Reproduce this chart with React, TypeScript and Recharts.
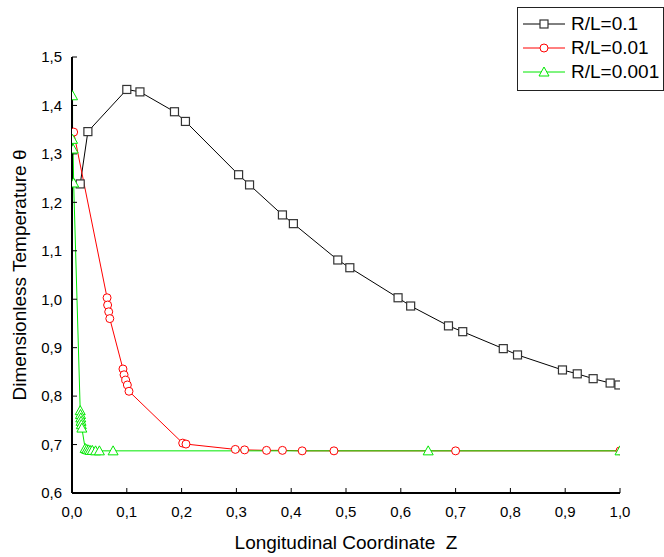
import React from 'react';
import { LineChart, Line, XAxis, YAxis, Legend } from 'recharts';

const seriesNames = ['R/L=0.1', 'R/L=0.01', 'R/L=0.001'];
const seriesColors = ['#000000', '#ff0000', '#00e800'];

const xTicks = [0, 0.1, 0.2, 0.3, 0.4, 0.5, 0.6, 0.7, 0.8, 0.9, 1.0];
const yTicks = [0.6, 0.7, 0.8, 0.9, 1.0, 1.1, 1.2, 1.3, 1.4, 1.5];

// R/L = 0.1
const zBlack = [0.015, 0.029, 0.1, 0.124, 0.187, 0.207, 0.304, 0.324, 0.384, 0.404, 0.485, 0.507, 0.595, 0.618, 0.687, 0.713, 0.787, 0.813, 0.895, 0.922, 0.951, 0.982, 0.998];
const thetaBlack = [1.238, 1.346, 1.433, 1.428, 1.387, 1.367, 1.257, 1.236, 1.174, 1.156, 1.081, 1.065, 1.003, 0.986, 0.945, 0.933, 0.898, 0.885, 0.854, 0.846, 0.836, 0.827, 0.823];

// R/L = 0.01
const zRed = [0.003, 0.064, 0.065, 0.067, 0.069, 0.093, 0.095, 0.098, 0.101, 0.104, 0.202, 0.208, 0.298, 0.315, 0.355, 0.384, 0.42, 0.478, 0.7, 1.0];
const thetaRed = [1.345, 1.003, 0.988, 0.974, 0.96, 0.856, 0.844, 0.833, 0.823, 0.81, 0.703, 0.701, 0.69, 0.689, 0.688, 0.688, 0.687, 0.687, 0.687, 0.687];

// R/L = 0.001
const zGreen = [0.001, 0.001, 0.002, 0.003, 0.015, 0.0155, 0.016, 0.0165, 0.017, 0.018, 0.024, 0.027, 0.03, 0.033, 0.037, 0.043, 0.05, 0.075, 0.65, 1.0];
const thetaGreen = [1.42, 1.33, 1.31, 1.24, 0.77, 0.762, 0.755, 0.748, 0.741, 0.734, 0.692, 0.69, 0.689, 0.688, 0.688, 0.687, 0.687, 0.687, 0.687, 0.687];

const toRows = (zs: number[], ts: number[]) => zs.map((z, i) => ({ z, theta: ts[i] }));

const blackData = toRows(zBlack, thetaBlack);
const redData = toRows(zRed, thetaRed);
const greenData = toRows(zGreen, thetaGreen);

const FONT = '"Liberation Sans", Arial, sans-serif';

const fmt = (v: number) => v.toFixed(1).replace('.', ',');

const Square = (props: any) => {
  const { cx, cy, color } = props;
  if (cx == null || cy == null) return null;
  return <rect x={cx - 4} y={cy - 4} width={8} height={8} fill="#fff" stroke={color} strokeWidth={1.2} />;
};

const Circle = (props: any) => {
  const { cx, cy, color } = props;
  if (cx == null || cy == null) return null;
  return <circle cx={cx} cy={cy} r={4} fill="#fff" stroke={color} strokeWidth={1} />;
};

const Triangle = (props: any) => {
  const { cx, cy, color } = props;
  if (cx == null || cy == null) return null;
  return (
    <path
      d={`M${cx},${cy - 5} L${cx + 5},${cy + 4} L${cx - 5},${cy + 4} Z`}
      fill="#fff"
      stroke={color}
      strokeWidth={1}
    />
  );
};

const markers = [Square, Circle, Triangle];
const markerColors = ['#333333', '#ff0000', '#00e800'];

const LegendBox = () => (
  <div
    style={{
      border: '1px solid #222',
      background: '#fff',
      padding: '4px 0 6px 0',
      fontFamily: FONT,
      fontSize: 19,
      color: '#000',
    }}
  >
    {seriesNames.map((name, i) => {
      const M = markers[i];
      return (
        <div key={name} style={{ display: 'flex', alignItems: 'center', height: 24 }}>
          <svg width={52} height={20} style={{ display: 'block' }}>
            <line x1={5} y1={10} x2={47} y2={10} stroke={seriesColors[i]} strokeWidth={1} />
            <M cx={26} cy={10} color={markerColors[i]} />
          </svg>
          <span style={{ marginLeft: 1 }}>{name}</span>
        </div>
      );
    })}
  </div>
);

export default function App() {
  return (
    <div style={{ position: 'absolute', left: 0, top: 0, background: '#fff' }}>
      <LineChart
        width={664}
        height={557}
        margin={{ top: 57, right: 44, bottom: 0, left: 0 }}
        style={{ fontFamily: FONT }}
      >
        <XAxis
          dataKey="z"
          type="number"
          domain={[0, 1]}
          ticks={xTicks}
          tickFormatter={fmt}
          allowDataOverflow
          height={64}
          axisLine={{ stroke: '#000', strokeWidth: 2 }}
          tickLine={{ stroke: '#000' }}
          tickSize={-5}
          tickMargin={18}
          tick={{ fill: '#000', fontSize: 15, fontFamily: FONT }}
          interval={0}
          label={{ value: 'Longitudinal Coordinate\u00a0\u00a0Z', position: 'insideBottom', offset: 8, fill: '#000', fontSize: 19, fontFamily: FONT }}
        />
        <YAxis
          dataKey="theta"
          type="number"
          domain={[0.6, 1.5]}
          ticks={yTicks}
          tickFormatter={fmt}
          allowDataOverflow
          width={72}
          axisLine={{ stroke: '#000', strokeWidth: 2 }}
          tickLine={{ stroke: '#000' }}
          tickSize={-5}
          tickMargin={15}
          tick={{ fill: '#000', fontSize: 15, fontFamily: FONT }}
          interval={0}
          label={{
            value: 'Dimensionless Temperature θ',
            angle: -90,
            position: 'insideLeft',
            offset: 19,
            fill: '#000',
            fontSize: 19,
            fontFamily: FONT,
            style: { textAnchor: 'middle' },
          }}
        />
        <Legend
          layout="vertical"
          align="center"
          verticalAlign="middle"
          content={() => <LegendBox />}
          wrapperStyle={{ position: 'absolute', top: 7, left: 517, width: 147, height: 'auto' }}
        />
        <Line
          data={blackData}
          dataKey="theta"
          name={seriesNames[0]}
          stroke={seriesColors[0]}
          strokeWidth={1}
          isAnimationActive={false}
          dot={(p: any) => <Square key={`b${p.index}`} cx={p.cx} cy={p.cy} color={markerColors[0]} />}
          activeDot={false}
        />
        <Line
          data={redData}
          dataKey="theta"
          name={seriesNames[1]}
          stroke={seriesColors[1]}
          strokeWidth={1}
          isAnimationActive={false}
          dot={(p: any) => <Circle key={`r${p.index}`} cx={p.cx} cy={p.cy} color={markerColors[1]} />}
          activeDot={false}
        />
        <Line
          data={greenData}
          dataKey="theta"
          name={seriesNames[2]}
          stroke={seriesColors[2]}
          strokeWidth={1}
          isAnimationActive={false}
          dot={(p: any) => <Triangle key={`g${p.index}`} cx={p.cx} cy={p.cy} color={markerColors[2]} />}
          activeDot={false}
        />
      </LineChart>
    </div>
  );
}
